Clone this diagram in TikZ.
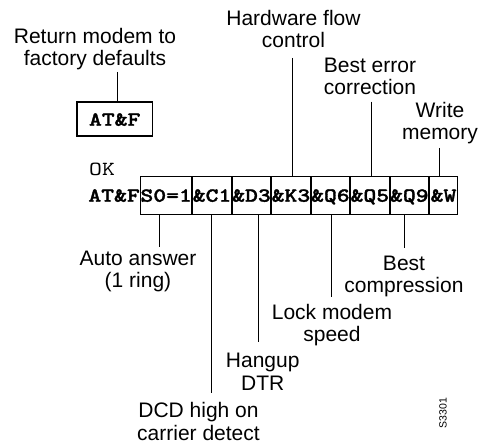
\documentclass[tikz,border=0pt]{standalone}
\usepackage{fontspec}
\setmainfont{Liberation Sans}
\newfontfamily\courbf{lmmonolt10-bold.otf}[FakeStretch=1.224, FakeBold=1.6]
\newfontfamily\courrg{lmmono10-regular.otf}[FakeStretch=1.224]
\begin{document}
\begin{tikzpicture}[x=1pt,y=-1pt,
  lab/.style={font=\fontsize{21}{22.5}\selectfont, align=center, anchor=base, inner sep=0pt},
  mono/.style={font=\courbf\fontsize{20}{22}\selectfont},
  cell/.style={mono, draw, line width=0.9pt, inner xsep=0pt, inner ysep=0pt,
    minimum height=38pt, text height=13.4pt, text depth=0pt, anchor=west},
  conn/.style={line width=0.9pt}]
\useasboundingbox (0,0) rectangle (479,446);

% top box
\node[mono, draw, line width=1.2pt, minimum width=75.5pt, minimum height=34pt,
  inner sep=0pt, text height=13.4pt, text depth=0pt] (atf) at (114.7,119) {AT\&F};

% command row
\node[cell] (s0) at (140,195) {S0=1};
\node[cell] (c1) at (s0.east) {\&C1};
\node[cell] (d3) at (c1.east) {\&D3};
\node[cell] (k3) at (d3.east) {\&K3};
\node[cell] (q6) at (k3.east) {\&Q6};
\node[cell] (q5) at (q6.east) {\&Q5};
\node[cell] (q9) at (q5.east) {\&Q9};
\node[cell, minimum width=28pt] (w) at (q9.east) {\&W};
\node[mono, anchor=base east, inner sep=0pt] (pre) at (s0.base west) {AT\&F};
\node[font=\courrg\fontsize{20}{22}\selectfont, anchor=base west, inner sep=0pt] (ok) at (89,176) {OK};

% labels (anchor = baseline of last line)
\node[lab] (ret) at (95,66) {Return modem to\\factory defaults};
\node[lab] (hw) at (293.5,48) {Hardware flow\\control};
\node[lab] (bec) at (370,95) {Best error\\correction};
\node[lab] (wm) at (440,140) {Write\\memory};
\node[lab] (aa) at (138,287.7) {Auto answer\\(1 ring)};
\node[lab] (bc) at (404,293) {Best\\compression};
\node[lab] (lock) at (332,341.7) {Lock modem\\speed};
\node[lab] (hang) at (262.7,390) {Hangup\\DTR};
\node[lab] (dcd) at (198.5,440) {DCD high on\\carrier detect};
\node[rotate=90, font=\fontsize{10.5}{12}\selectfont, inner sep=0pt] (code) at (443,413) {S3301};

% connector ends
\coordinate (retE) at (117,72);
\coordinate (hwE) at (292,58);
\coordinate (becE) at (371,101.7);
\coordinate (wmE) at (439,148);
\coordinate (aaE) at (159,247.3);
\coordinate (dcdE) at (211,393);
\coordinate (hangE) at (258,341.7);
\coordinate (lockE) at (331,297);
\coordinate (bcE) at (404,248);

\draw[conn] (retE) -- (atf.north -| retE);
\draw[conn] (hwE) -- (k3.north -| hwE);
\draw[conn] (becE) -- (q5.north -| becE);
\draw[conn] (wmE) -- (w.north -| wmE);
\draw[conn] (s0.south -| aaE) -- (aaE);
\draw[conn] (c1.south -| dcdE) -- (dcdE);
\draw[conn] (d3.south -| hangE) -- (hangE);
\draw[conn] (q6.south -| lockE) -- (lockE);
\draw[conn] (q9.south -| bcE) -- (bcE);
\end{tikzpicture}
\end{document}
